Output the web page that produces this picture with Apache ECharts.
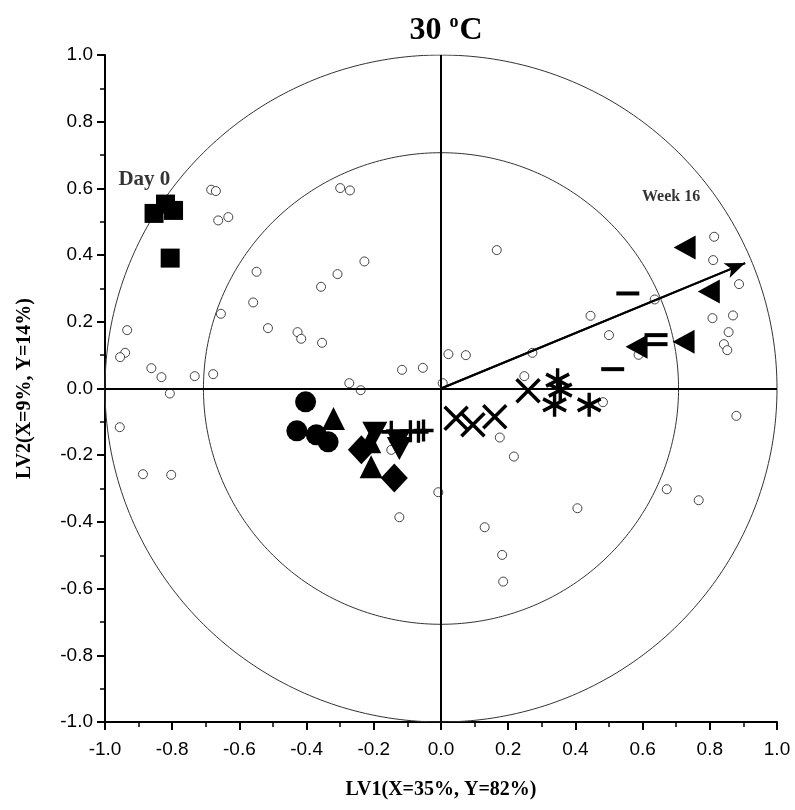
<!DOCTYPE html>
<html><head><meta charset="utf-8">
<script src="https://cdn.jsdelivr.net/npm/echarts@6/dist/echarts.min.js"></script>
<style>html,body{margin:0;padding:0;background:#fff}#c{width:795px;height:810px}</style>
</head><body><div id="c"></div>
<script>
// X-variable loadings (open circles)
const xLoadings = [
  [-0.684,0.596],[-0.670,0.592],[-0.663,0.504],[-0.633,0.514],[-0.300,0.601],[-0.271,0.594],
  [-0.228,0.381],[-0.549,0.350],[-0.308,0.343],[-0.357,0.305],[-0.559,0.258],[-0.655,0.224],
  [-0.515,0.181],[-0.427,0.169],[-0.416,0.149],[-0.354,0.137],[-0.934,0.175],[-0.940,0.107],
  [-0.955,0.094],[-0.862,0.061],[-0.832,0.034],[-0.733,0.037],[-0.678,0.043],[-0.116,0.056],
  [-0.054,0.062],[-0.273,0.016],[-0.239,-0.005],[0.005,0.016],
  [-0.807,-0.015],[-0.956,-0.116],[-0.887,-0.257],[-0.803,-0.259],[-0.008,-0.311],[-0.124,-0.386],
  [-0.148,-0.184],
  [0.166,0.415],[0.022,0.103],[0.074,0.100],[0.272,0.107],[0.445,0.218],[0.500,0.160],[0.636,0.267],
  [0.588,0.101],[0.813,0.455],[0.810,0.385],[0.887,0.313],[0.808,0.211],[0.869,0.219],[0.856,0.169],
  [0.842,0.133],[0.852,0.115],[0.248,0.037],
  [0.482,-0.041],[0.175,-0.147],[0.217,-0.204],[0.406,-0.359],[0.130,-0.416],[0.182,-0.499],
  [0.185,-0.579],[0.672,-0.302],[0.767,-0.335],[0.879,-0.082]
];
// Sample scores by storage time
const day0Scores   = [[-0.854,0.525],[-0.820,0.553],[-0.796,0.534],[-0.806,0.391]];
const circleScores = [[-0.403,-0.040],[-0.429,-0.127],[-0.371,-0.139],[-0.336,-0.160]];
const upTriScores  = [[-0.320,-0.090],[-0.208,-0.235],[-0.212,-0.160]];
const downTriScores= [[-0.197,-0.134],[-0.127,-0.157],[-0.124,-0.180]];
const diamondScores= [[-0.237,-0.184],[-0.139,-0.268]];
const plusScores   = [[-0.148,-0.130],[-0.091,-0.128],[-0.067,-0.130],[-0.052,-0.126]];
const crossScores  = [[0.045,-0.089],[0.095,-0.109],[0.160,-0.085],[0.259,-0.007]];
const starScores   = [[0.347,0.025],[0.355,-0.005],[0.338,-0.049],[0.441,-0.049]];
const dashScores   = [[0.556,0.285],[0.640,0.160],[0.640,0.133],[0.511,0.058]];
const week16Scores = [[0.725,0.423],[0.797,0.291],[0.722,0.140],[0.582,0.125]];
// Y-loading arrow and guide circles
const arrowEnd = [0.905, 0.376];
const guideRadii = [1.0, 0.707];
const annotations = [
  {name:'Day 0', value:[-0.960, 0.625], size:21},
  {name:'Week 16', value:[0.598, 0.574], size:16}
];

function circlePts(r){ const p=[]; for(let a=0;a<=360;a+=1){const t=a*Math.PI/180; p.push([r*Math.cos(t), r*Math.sin(t)]);} return p; }

const serif = 'Liberation Serif';
const sans = 'Liberation Sans';

const chart = echarts.init(document.getElementById('c'), null, {renderer:'canvas'});

const filled = (data, symbol, size, extra) => Object.assign({
  type:'scatter', data, symbol, symbolSize:size, z:5, silent:true,
  itemStyle:{color:'#000', opacity:1}
}, extra||{});
const stroked = (data, symbol, size, w) => ({
  type:'scatter', data, symbol, symbolSize:size, z:5, silent:true,
  itemStyle:{color:'rgba(0,0,0,0)', borderColor:'#000', borderWidth:w, opacity:1}
});

const series = [];
guideRadii.forEach((r,i)=>{
  const s = {type:'line', data:circlePts(r), showSymbol:false, symbol:'none', smooth:false, z:1, silent:true,
    lineStyle:{color:'#333', width:1}};
  if(i===0){
    s.markLine = {silent:true, symbol:['none','none'], label:{show:false}, animation:false,
      lineStyle:{color:'#000', width:2, type:'solid'},
      data:[{xAxis:0},{yAxis:0}]};
  }
  series.push(s);
});
// arrow
series.push({type:'line', data:[[0,0],arrowEnd], showSymbol:false, symbol:'none', z:4, silent:true,
  lineStyle:{color:'#000', width:2},
  markLine:{silent:true, symbol:['none','arrow'], symbolSize:[12,20], label:{show:false}, animation:false,
    lineStyle:{color:'#000', width:2, type:'solid'},
    data:[[{coord:[0,0]},{coord:arrowEnd}]]}
});
// loadings
series.push({type:'scatter', data:xLoadings, symbol:'circle', symbolSize:9, z:3, silent:true,
  itemStyle:{color:'#fff', borderColor:'#444', borderWidth:1, opacity:1}});
// samples
series.push(filled(day0Scores, 'rect', 19));
series.push(filled(circleScores, 'circle', 21));
series.push(filled(upTriScores, 'triangle', [23,23]));
series.push(filled(downTriScores, 'path://M0,0 L10,0 L5,9 Z', [25,23]));
series.push(filled(diamondScores, 'diamond', [27,29]));
series.push(stroked(plusScores, 'path://M0,5 L10,5 M5,0 L5,10', [20,22], 3.5));
series.push(stroked(crossScores, 'path://M0,0 L10,10 M10,0 L0,10', [23,23], 3.5));
series.push(stroked(starScores, 'path://M5,0 L5,10 M0,2.5 L10,7.5 M0,7.5 L10,2.5', [23,24], 3.5));
series.push(filled(dashScores, 'rect', [23,4]));
series.push(filled(week16Scores, 'path://M0,5 L9,0 L9,10 Z', [22,24]));
// annotations
series.push({type:'scatter', symbolSize:0, z:6, silent:true,
  data: annotations.map(a=>({name:a.name, value:a.value, label:{fontSize:a.size}})),
  label:{show:true, position:'right', distance:0, formatter:'{b}', color:'#000',
    fontFamily:serif, fontWeight:'bold'}});

const axisCommon = {
  type:'value', min:-1, max:1, interval:0.2,
  axisLine:{show:true, onZero:false, lineStyle:{color:'#000', width:2}},
  axisTick:{show:true, inside:false, length:8, lineStyle:{color:'#000', width:2}},
  minorTick:{show:true, splitNumber:2, length:5, lineStyle:{color:'#000', width:1.5}},
  splitLine:{show:false}, minorSplitLine:{show:false},
  axisLabel:{color:'#000', fontSize:19, fontFamily:sans,
    formatter:v=>(Math.abs(v)<1e-9?0:v).toFixed(1)},
  nameLocation:'middle',
  nameTextStyle:{fontFamily:serif, fontWeight:'bold', fontSize:20, color:'#000'}
};

chart.setOption({
  animation:false,
  backgroundColor:'#fff',
  title:{
    text:'{a|30 }{s|o}{a|C}', left:441, top:8, textAlign:'center',
    textStyle:{rich:{
      a:{fontFamily:serif, fontWeight:'bold', fontSize:32, color:'#000', lineHeight:36},
      s:{fontFamily:serif, fontWeight:'bold', fontSize:18, color:'#000', verticalAlign:'top', lineHeight:36, padding:[0,1,0,0]}
    }}
  },
  grid:{left:105, right:18, top:55, bottom:88, containLabel:false},
  xAxis:Object.assign({}, axisCommon, {position:'bottom', name:'LV1(X=35%, Y=82%)', nameGap:58,
    axisLabel:Object.assign({}, axisCommon.axisLabel, {margin:18})}),
  yAxis:Object.assign({}, axisCommon, {position:'left', name:'LV2(X=9%, Y=14%)', nameGap:70,
    axisLabel:Object.assign({}, axisCommon.axisLabel, {margin:12})}),
  series
});
</script></body></html>
